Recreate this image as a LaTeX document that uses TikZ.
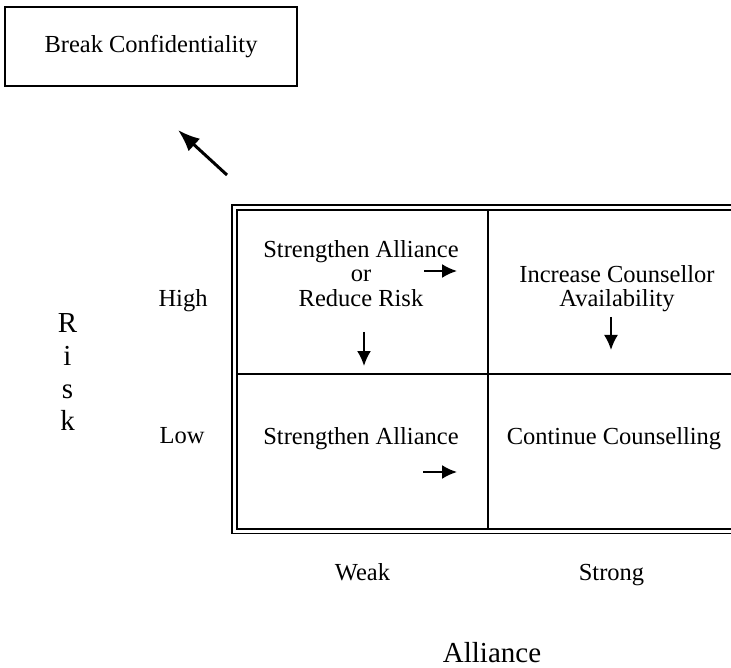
\documentclass[tikz,border=0pt]{standalone}
\usepackage{fontspec}
\setmainfont{Liberation Serif}
\usetikzlibrary{arrows.meta,calc,positioning}
\newcommand{\cellfont}{\fontsize{24.5}{24.5}\selectfont}
\newcommand{\axisfont}{\fontsize{29}{32.7}\selectfont}

\begin{document}
\begin{tikzpicture}[x=1pt,y=-1pt,every node/.style={align=center,inner sep=0pt,font=\cellfont},
  hint/.style={line width=2pt,-{Latex[length=15pt,width=14pt]}}]
\useasboundingbox (0,0) rectangle (731,668);
\clip (0,0) rectangle (731,668);
\node [draw,line width=1.8pt,minimum width=292pt,minimum height=79pt] (BreakBox) at (151,46.5) {Break Confidentiality};
\draw [line width=2pt] (488,207.5) -- (488,531);
\draw [line width=2pt] (234.5,374) -- (745,374);
\draw [line width=1.7pt,double,double distance=3pt] (234.5,207.5) rectangle (745,531);
\node (HighWeak) at (361,273.3) {Strengthen Alliance\\or\\Reduce Risk};
\node (HighStrong) at (617,288.8) {Increase Counsellor\\Availability};
\node [anchor=base] (LowWeak) at (361,444) {Strengthen Alliance};
\node [anchor=base] (LowStrong) at (614,444) {Continue Counselling};
\node [anchor=base] (HighLabel) at (183,307) {High};
\node [anchor=base] (LowLabel) at (182,443) {Low};
\node [anchor=base] (WeakLabel) at (362.5,580) {Weak};
\node [anchor=base] (StrongLabel) at (611.5,580) {Strong};
\node [font=\axisfont] (RiskLabel) at (67.5,372.4) {R\\i\\s\\k};
\node [anchor=base,font=\axisfont] (AllianceLabel) at (492,662) {Alliance};
\coordinate (HighWeakRight) at (424,271);
\coordinate (HighWeakDown) at (364,332);
\coordinate (HighStrongDown) at (611,317);
\coordinate (LowWeakRight) at (423,472);
\coordinate (EscalateTail) at (227,175);
\coordinate (EscalateTip) at (178,130);
\draw [hint] (HighWeakRight) -- ++(33,0);
\draw [hint] (HighWeakDown) -- ++(0,34);
\draw [hint] (HighStrongDown) -- ++(0,33);
\draw [hint] (LowWeakRight) -- ++(34,0);
\draw [line width=3pt,-{Latex[length=22pt,width=17pt]}] (EscalateTail) -- (EscalateTip);
\end{tikzpicture}
\end{document}
